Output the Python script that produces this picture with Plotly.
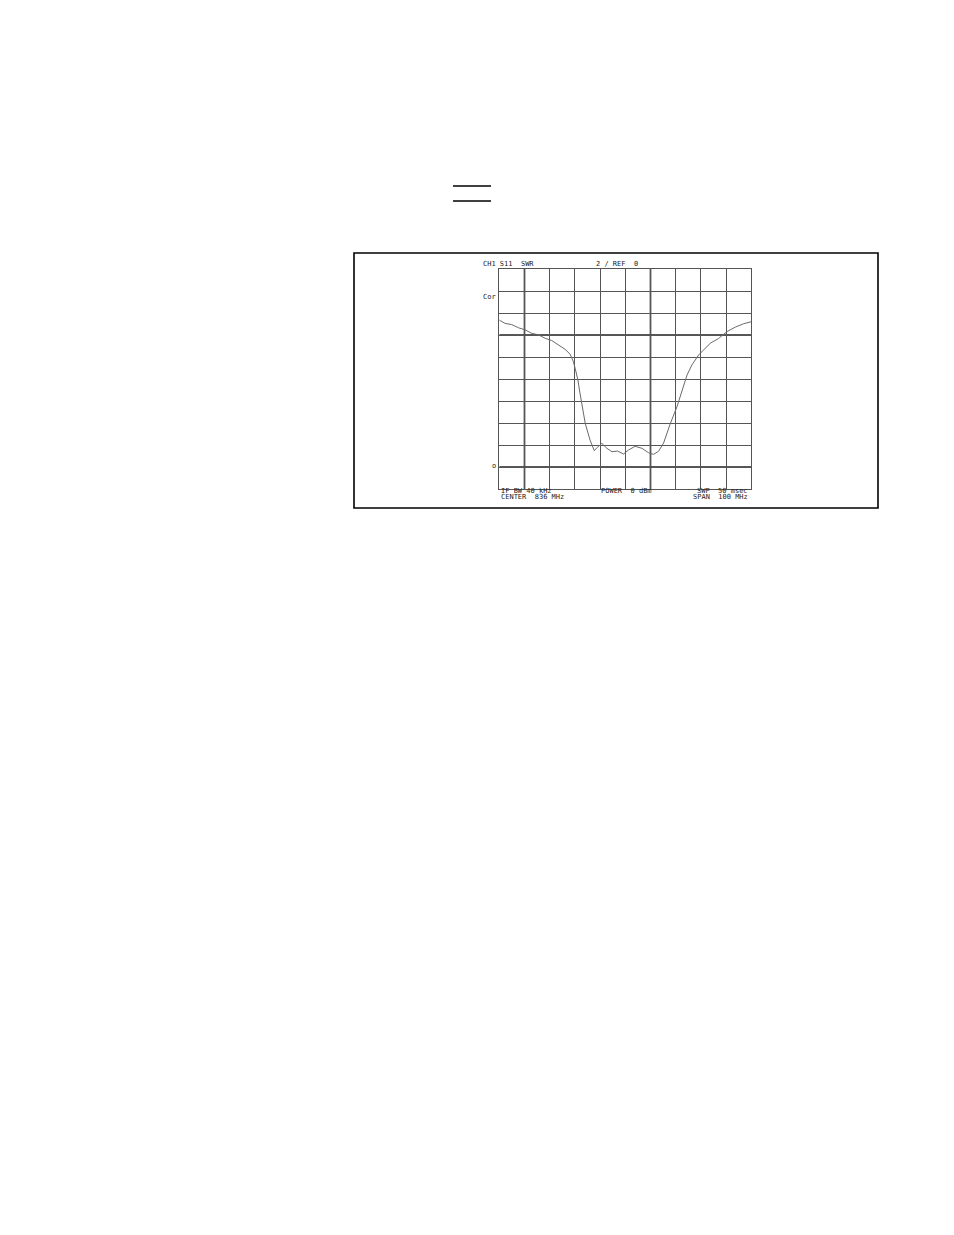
import plotly.graph_objects as go

# S11 SWR trace (MHz, 2 units / div, ref 0)
freq_mhz = [786.0, 788.3, 790.9, 793.6, 796.2, 798.9, 801.5, 804.2, 806.8, 809.4,
            812.1, 814.1, 815.4, 816.1, 817.2, 817.8, 818.7, 820.1, 822.0, 823.7,
            824.9, 826.7, 828.7, 830.7, 832.9, 835.3, 837.3, 839.9, 842.6, 845.2,
            847.2, 849.2, 851.2, 853.8, 856.5, 858.5, 860.5, 862.4, 865.1, 867.1,
            869.7, 873.0, 876.4, 879.7, 882.9, 886.0]
swr = [13.36, 13.05, 12.95, 12.66, 12.47, 12.15, 12.02, 11.70, 11.50, 11.12,
       10.70, 10.25, 9.57, 8.97, 7.91, 7.00, 5.79, 3.97, 2.45, 1.48,
       1.79, 2.15, 1.70, 1.39, 1.45, 1.18, 1.55, 1.88, 1.70, 1.30,
       1.15, 1.43, 2.18, 3.91, 5.48, 7.00, 8.36, 9.27, 10.18, 10.64,
       11.25, 11.68, 12.32, 12.72, 13.02, 13.21]

x_ticks = [786 + 10 * i for i in range(11)]
y_ticks = [-2 + 2 * i for i in range(11)]
bold_x = [796, 846]
bold_y = [12, 0]

W, H = 954, 1235
OFF = 8  # page body margin


def px(x):
    return (x - OFF) / W


def py(y):
    return 1 - (y - OFF) / H


fig = go.Figure()
fig.add_trace(go.Scatter(x=freq_mhz, y=swr, mode="lines",
                         line=dict(color="#6a6a6a", width=1), hoverinfo="skip"))

for xv in bold_x:
    fig.add_shape(type="line", xref="x", yref="y", x0=xv, x1=xv, y0=-2, y1=18,
                  line=dict(color="#222", width=1.6), layer="below")
for yv in bold_y:
    fig.add_shape(type="line", xref="x", yref="y", x0=786, x1=886, y0=yv, y1=yv,
                  line=dict(color="#222", width=1.6), layer="below")

# outer frame and the two short rules above it
fig.add_shape(type="rect", xref="paper", yref="paper",
              x0=px(354), x1=px(878), y0=py(508), y1=py(253),
              line=dict(color="black", width=1.6))
for yy in [186, 201]:
    fig.add_shape(type="line", xref="paper", yref="paper",
                  x0=px(453), x1=px(491), y0=py(yy), y1=py(yy),
                  line=dict(color="black", width=1.5))

font = dict(family="DejaVu Sans Mono", size=7, color="#222")
labels = [
    ("CH1 S11  SWR", 481, 264, "left"),
    ("2 / REF  0", 594, 264, "left"),
    ("Cor", 481, 297, "left"),
    ("o", 498, 466, "right"),
    ("IF BW 40 kHz", 499, 491, "left"),
    ("CENTER  836 MHz", 499, 497, "left"),
    ("POWER  0 dBm", 599, 491, "left"),
    ("SWP  50 msec", 750, 491, "right"),
    ("SPAN  100 MHz", 750, 497, "right"),
]
for txt, x, y, anc in labels:
    fig.add_annotation(text=txt, xref="paper", yref="paper", x=px(x), y=py(y),
                       xanchor=anc, yanchor="middle", showarrow=False, font=font)

axis_common = dict(showgrid=True, gridcolor="#555", gridwidth=1, zeroline=False,
                   showticklabels=False, ticks="", showline=True, linecolor="#555",
                   linewidth=1, mirror=True, fixedrange=True)
fig.update_xaxes(range=[786, 886], tickvals=x_ticks,
                 domain=[px(499.3), px(751.3)], **axis_common)
fig.update_yaxes(range=[-2, 18], tickvals=y_ticks,
                 domain=[py(489), py(269)], **axis_common)

fig.update_layout(width=W, height=H, margin=dict(l=0, r=0, t=0, b=0),
                  paper_bgcolor="white", plot_bgcolor="white", showlegend=False)

fig.write_html("out.html")
